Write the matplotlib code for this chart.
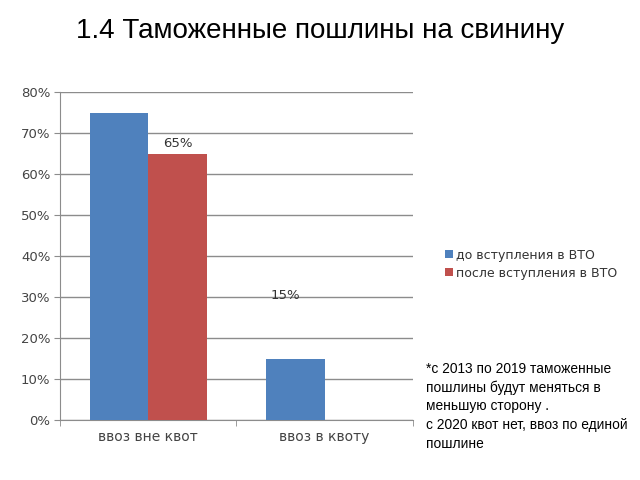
import matplotlib
matplotlib.use("Agg")
import matplotlib.pyplot as plt
import numpy as np
from matplotlib.ticker import FuncFormatter

categories = ["ввоз вне квот", "ввоз в квоту"]
series_names = ["до вступления в ВТО", "после вступления в ВТО"]
before = [75, 15]
after = [65, 0]
colors = ["#4f81bd", "#c0504d"]

fig = plt.figure(figsize=(6.4, 4.8), dpi=100)
fig.patch.set_facecolor("white")
ax = fig.add_axes([0.094, 0.125, 0.551, 0.683])

x = np.arange(len(categories))
w = 0.33
ax.bar(x - w / 2, before, w, color=colors[0], label=series_names[0], zorder=3)
ax.bar(x + w / 2, after, w, color=colors[1], label=series_names[1], zorder=3)

ax.set_xlim(-0.5, 1.5)
ax.set_ylim(0, 80)
ax.set_yticks(np.arange(0, 81, 10))
ax.yaxis.set_major_formatter(FuncFormatter(lambda v, p: f"{int(v)}%"))
ax.grid(axis="y", color="#8c8c8c", linewidth=1, zorder=0)
ax.set_axisbelow(True)
for s in ["top", "right"]:
    ax.spines[s].set_visible(False)
ax.spines["left"].set_color("#8c8c8c")
ax.spines["bottom"].set_color("#8c8c8c")
ax.set_xticks(x)
ax.set_xticklabels(categories, fontsize=10, color="#444444")
ax.tick_params(axis="x", length=0, pad=7)
ax.set_xticks([-0.5, 0.5, 1.5], minor=True)
ax.tick_params(axis="x", which="minor", length=4, color="#8c8c8c")
ax.tick_params(axis="y", labelsize=9.5, labelcolor="#444444", color="#8c8c8c", length=4, pad=3)

ax.text(0 + w / 2, 67.5, f"{after[0]}%", ha="center", va="center", fontsize=9.5, color="#333333")
ax.text(1 - 0.22, 30.5, f"{before[1]}%", ha="center", va="center", fontsize=9.5, color="#333333")

fig.text(0.5, 0.935, "1.4 Таможенные пошлины на свинину", ha="center", va="center",
         fontsize=20, family="Liberation Sans")

handles, labels = ax.get_legend_handles_labels()
fig.legend(handles, labels, loc="upper left", bbox_to_anchor=(0.678, 0.505), frameon=False,
           handlelength=0.6, handleheight=0.6, handletextpad=0.3, labelspacing=0.4,
           prop={"family": "DejaVu Sans", "size": 9}, labelcolor="#333333")

note = ("*с 2013 по 2019 таможенные\nпошлины будут меняться в\nменьшую сторону .\n"
        "с 2020 квот нет, ввоз по единой\nпошлине")
fig.text(0.665, 0.154, note, ha="left", va="center", fontsize=9.9, family="Liberation Sans",
         linespacing=1.42)

fig.savefig("out.png", dpi=100)
